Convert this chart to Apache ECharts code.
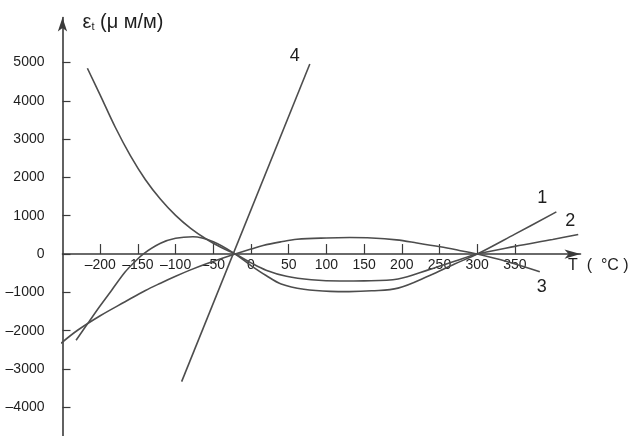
<!DOCTYPE html>
<html>
<head>
<meta charset="utf-8">
<script src="https://cdn.jsdelivr.net/npm/echarts@6/dist/echarts.min.js"></script>
<style>
html,body{margin:0;padding:0;background:#fff;}
#chart{width:635px;height:436px;}
</style>
</head>
<body>
<div id="chart"></div>
<script>
// Tick labels
const xTicks = [-200, -150, -100, -50, 0, 50, 100, 150, 200, 250, 300, 350];
const yTicks = [-4000, -3000, -2000, -1000, 0, 1000, 2000, 3000, 4000, 5000];

// Curve 1
const curve1T = [-232, -215, -200, -185, -167, -155, -143, -120, -100, -77, -50, -21, 0, 20, 40, 70, 105, 130, 160, 195, 237, 270, 300, 350, 405];
const curve1E = [-2250, -1770, -1350, -950, -470, -220, 0, 280, 410, 450, 320, 0, -300, -560, -780, -920, -975, -980, -960, -890, -560, -260, 0, 520, 1100];

// Curve 2
const curve2T = [-217, -200, -180, -160, -140, -120, -100, -80, -60, -40, -21, 0, 20, 47, 80, 118, 150, 195, 237, 270, 300, 350, 400, 434];
const curve2E = [4850, 4150, 3310, 2570, 1940, 1430, 1010, 672, 400, 176, 0, -230, -420, -580, -670, -705, -700, -650, -400, -190, 0, 200, 380, 510];

// Curve 3
const curve3T = [-252, -230, -200, -167, -140, -120, -100, -81, -60, -40, -21, 0, 16, 40, 61, 100, 131, 160, 193, 220, 251, 275, 300, 340, 383];
const curve3E = [-2330, -1990, -1610, -1245, -950, -760, -580, -420, -260, -120, 0, 130, 225, 320, 385, 420, 430, 420, 370, 290, 190, 100, 0, -200, -460];

// Curve 4
const curve4T = [-92, 78];
const curve4E = [-3330, 4960];

const curveNames = ['1', '2', '3', '4'];

const lineColor = '#4d4d4d';
const axisColor = '#3a3a3a';
const textColor = '#1e1e1e';
const fontFamily = '"Liberation Sans", Arial, sans-serif';
const dash = v => String(v).replace('-', '\u2013');

const yMin = -4750, yMax = 6175;
const gridTop = 17.5, chartH = 436;
// pixel position of the value-0 line, used to place the x axis on it
const zeroOffset = -((chartH - gridTop) * (0 - yMin) / (yMax - yMin));

function makeSeries(name, T, E, offset, smooth) {
  const data = T.map((t, i) => [t, E[i]]);
  const last = data.length - 1;
  data[last] = {
    value: data[last],
    label: {
      show: true,
      formatter: name,
      position: 'inside',
      offset: offset,
      fontSize: 18,
      color: textColor,
      fontFamily: fontFamily
    }
  };
  return {
    name: name,
    type: 'line',
    data: data,
    smooth: smooth,
    symbol: 'circle',
    symbolSize: 0,
    showSymbol: true,
    lineStyle: { color: lineColor, width: 1.6 },
    itemStyle: { color: lineColor },
    label: { show: false },
    emphasis: { disabled: true },
    silent: true,
    z: 3
  };
}

const chart = echarts.init(document.getElementById('chart'), null, { renderer: 'canvas' });
chart.setOption({
  animation: false,
  backgroundColor: '#ffffff',
  grid: { left: 62.5, right: 54.5, top: gridTop, bottom: 0, containLabel: false, outerBoundsMode: 'none' },
  xAxis: {
    type: 'value',
    min: -250,
    max: 437,
    position: 'bottom',
    offset: zeroOffset,
    name: 'T  (  °C )',
    nameLocation: 'end',
    nameGap: -12.5,
    nameTextStyle: {
      fontSize: 16,
      color: textColor,
      fontFamily: fontFamily,
      align: 'left',
      verticalAlign: 'top',
      padding: [4, 0, 0, 0]
    },
    axisLine: {
      onZero: false,
      lineStyle: { color: axisColor, width: 1.6 },
      symbol: ['none', 'arrow'],
      symbolSize: [7, 16]
    },
    axisTick: { show: true, inside: true, length: 10, customValues: xTicks, lineStyle: { color: axisColor, width: 1.2 } },
    axisLabel: {
      show: true,
      customValues: xTicks,
      margin: 4,
      fontSize: 14,
      color: textColor,
      fontFamily: fontFamily,
      formatter: dash
    },
    splitLine: { show: false }
  },
  yAxis: {
    type: 'value',
    min: yMin,
    max: yMax,
    name: '{a|ε}{s|t}{a| (μ м/м)}',
    nameLocation: 'end',
    nameGap: -5,
    nameTextStyle: {
      align: 'left',
      verticalAlign: 'middle',
      padding: [0, 0, 0, 20],
      rich: {
        a: { fontSize: 20, color: textColor, fontFamily: fontFamily },
        s: { fontSize: 11, color: textColor, fontFamily: fontFamily, verticalAlign: 'bottom', padding: [7, 0, 0, 0] }
      }
    },
    axisLine: {
      onZero: false,
      lineStyle: { color: axisColor, width: 1.6 },
      symbol: ['none', 'arrow'],
      symbolSize: [7, 14]
    },
    axisTick: { show: true, inside: true, length: 8, customValues: yTicks, lineStyle: { color: axisColor, width: 1.2 } },
    axisLabel: {
      show: true,
      customValues: yTicks,
      margin: 18,
      fontSize: 14,
      color: textColor,
      fontFamily: fontFamily,
      padding: [5, 0, 0, 0],
      formatter: dash
    },
    splitLine: { show: false }
  },
  series: [
    makeSeries(curveNames[0], curve1T, curve1E, [-14, -14], 0.35),
    makeSeries(curveNames[1], curve2T, curve2E, [-8, -13], 0.35),
    makeSeries(curveNames[2], curve3T, curve3E, [2, 15], 0.35),
    makeSeries(curveNames[3], curve4T, curve4E, [-15, -8], false)
  ]
});
</script>
</body>
</html>
